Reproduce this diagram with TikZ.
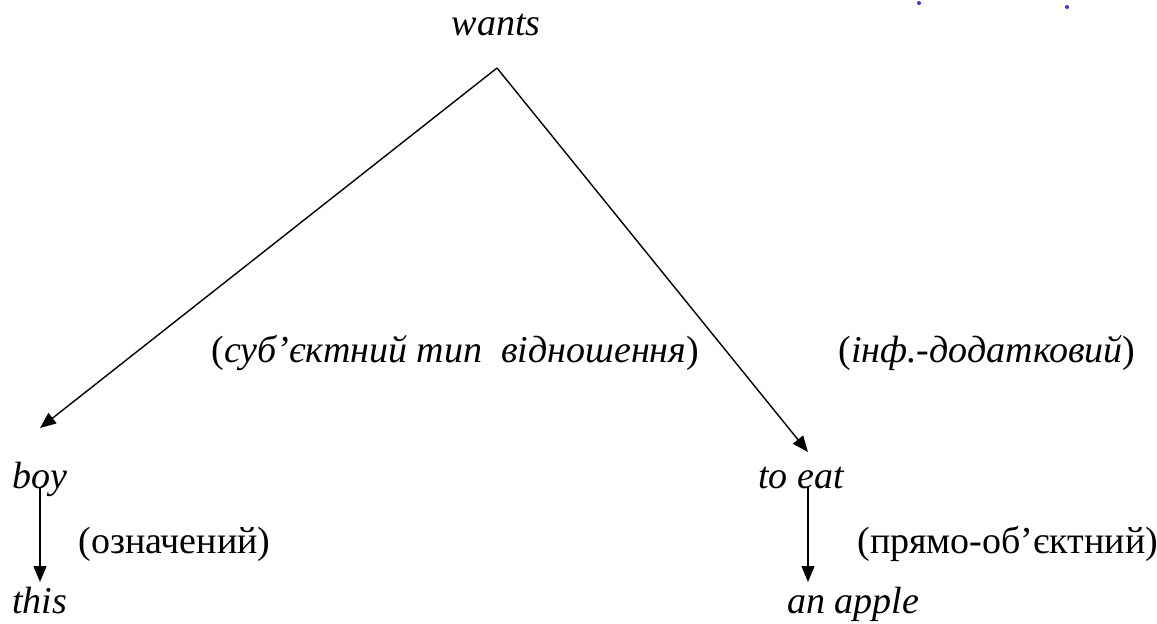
\documentclass[tikz,border=0pt]{standalone}
\usepackage{fontspec}
\setmainfont{Liberation Serif}
\usetikzlibrary{arrows.meta, positioning}
\definecolor{dotblue}{HTML}{3030F0}

\begin{document}
\begin{tikzpicture}[x=0.5pt, y=-0.5pt,
  word/.style={font=\fontsize{19}{21}\selectfont\itshape, inner sep=0pt, anchor=base west},
  rel/.style={font=\fontsize{19}{21}\selectfont, inner sep=0pt, anchor=base west},
  arrow/.style={-{Triangle[length=8pt, width=6.5pt]}, line width=0.7pt}]

\useasboundingbox (0,0) rectangle (1157,623);

\node[word, anchor=base] (wants) at (496,35) {wants};
\coordinate (top) at (497,68);

\node[word] (boy) at (12,488) {boy};
\node[word] (this) at (12,613) {this};
\node[word] (toeat) at (758,488) {to eat};
\node[word] (apple) at (787,613) {an apple};

\node[rel] (subj) at (211,362) {(\textit{суб’єктний тип\ \ відношення})};
\node[rel] (inf) at (838,362) {(\textit{інф.-додатковий})};
\node[rel] (attr) at (78,553) {(означений)};
\node[rel] (obj) at (857,553) {(прямо-об’єктний)};

\coordinate (boyin) at (40,428);
\coordinate (eatin) at (808,452);
\coordinate (boyout) at (40,487);
\coordinate (thisin) at (40,582);
\coordinate (eatout) at (808,487);
\coordinate (applein) at (808,582);

\draw[arrow] (top) -- (boyin);
\draw[arrow] (top) -- (eatin);
\draw[arrow] (boyout) -- (thisin);
\draw[arrow] (eatout) -- (applein);

% stray marks top right
\fill[dotblue] (919,3) circle (2);
\fill[dotblue] (1067,7) circle (2);
\end{tikzpicture}
\end{document}
